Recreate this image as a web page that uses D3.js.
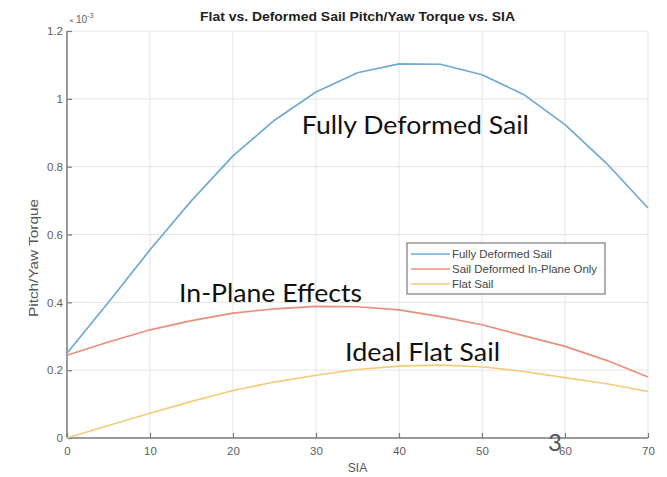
<!DOCTYPE html>
<html>
<head>
<meta charset="utf-8">
<script src="https://cdn.jsdelivr.net/npm/d3@7"></script>
<style>
  html, body { margin: 0; padding: 0; background: #fff; }
  svg { display: block; }
</style>
</head>
<body>
<svg id="chart" width="667" height="477"></svg>
<script>
// Sail incidence angle (degrees)
const sia = [0, 5, 10, 15, 20, 25, 30, 35, 40, 45, 50, 55, 60, 65, 70];

// Pitch/yaw torque, in units of 1e-3
const fullyDeformed = [0.250, 0.400, 0.555, 0.700, 0.832, 0.937, 1.020, 1.077, 1.103, 1.102, 1.071, 1.013, 0.924, 0.810, 0.678];
const inPlaneOnly   = [0.244, 0.283, 0.319, 0.346, 0.368, 0.381, 0.388, 0.387, 0.378, 0.358, 0.334, 0.302, 0.270, 0.229, 0.180];
const flatSail      = [0.000, 0.037, 0.073, 0.108, 0.140, 0.165, 0.185, 0.202, 0.212, 0.215, 0.210, 0.196, 0.178, 0.160, 0.137];

const seriesNames = ["Fully Deformed Sail", "Sail Deformed In-Plane Only", "Flat Sail"];

const xTicks = [0, 10, 20, 30, 40, 50, 60, 70];
const yTicks = [0, 0.2, 0.4, 0.6, 0.8, 1, 1.2];

const titleText = "Flat vs. Deformed Sail Pitch/Yaw Torque vs. SIA";
const xLabel = "SIA";
const yLabel = "Pitch/Yaw Torque";
const calloutTexts = ["Fully Deformed Sail", "In-Plane Effects", "Ideal Flat Sail"];
// callout anchors in data coordinates (SIA, torque)
const calloutAnchors = [[28.3, 0.895], [13.5, 0.402], [33.5, 0.228]];

// ---- styling ----
const seriesColors = ["#6faad5", "#e98f7b", "#f2cc78"];
const calloutWidths = [227, 183, 155];
const sans = "'Liberation Sans', Arial, sans-serif";
const slideFont = "Lato, 'Open Sans', sans-serif";

const svg = d3.select("#chart");
const plotLeft = 67, plotRight = 648, plotTop = 31, plotBottom = 438;

const x = d3.scaleLinear().domain([0, 70]).range([plotLeft, plotRight]);
const y = d3.scaleLinear().domain([0, 1.2]).range([plotBottom, plotTop]);

// grid
const grid = svg.append("g").attr("stroke", "#e4e4e4").attr("stroke-width", 1);
grid.selectAll("line.vx").data(xTicks.slice(1)).join("line")
  .attr("x1", d => x(d)).attr("x2", d => x(d))
  .attr("y1", plotTop).attr("y2", plotBottom);
grid.selectAll("line.hy").data(yTicks.slice(1)).join("line")
  .attr("x1", plotLeft).attr("x2", plotRight)
  .attr("y1", d => y(d)).attr("y2", d => y(d));

// axes
const axisColor = "#7a7a7a";
const xAxis = svg.append("g").attr("transform", `translate(0,${plotBottom})`)
  .call(d3.axisBottom(x).tickValues(xTicks).tickSize(-5).tickPadding(9).tickFormat(d3.format("d")));
const yAxis = svg.append("g").attr("transform", `translate(${plotLeft},0)`)
  .call(d3.axisLeft(y).tickValues(yTicks).tickSize(-5).tickPadding(4).tickFormat(d => d === 0 ? "0" : d3.format("")(d)));
[xAxis, yAxis].forEach(a => {
  a.select(".domain").attr("stroke", axisColor).attr("stroke-width", 1.5);
  a.selectAll(".tick line").attr("stroke", axisColor).attr("stroke-width", 1.2);
  a.selectAll(".tick text").attr("fill", "#5e5e5e").attr("font-family", sans).attr("font-size", 11.5);
});
xAxis.select(".domain").attr("d", `M${plotLeft},0H${plotRight}`);
yAxis.select(".domain").attr("d", `M0,${plotBottom}V${plotTop}`);

// exponent
const expo = svg.append("text").attr("x", plotLeft + 2).attr("y", plotTop - 8)
  .attr("font-family", sans).attr("font-size", 10).attr("fill", "#5e5e5e");
expo.append("tspan").attr("font-size", 8).text("\u00d7 ");
expo.append("tspan").text("10");
expo.append("tspan").attr("dy", -5).attr("font-size", 7.5).text("-3");

// title & axis labels
svg.append("text").attr("x", (plotLeft + plotRight) / 2).attr("y", 21).attr("text-anchor", "middle")
  .attr("font-family", sans).attr("font-weight", "bold").attr("font-size", 13)
  .attr("textLength", 315).attr("lengthAdjust", "spacingAndGlyphs")
  .attr("fill", "#222").text(titleText);
svg.append("text").attr("x", (plotLeft + plotRight) / 2).attr("y", 472).attr("text-anchor", "middle")
  .attr("font-family", sans).attr("font-size", 12).attr("fill", "#555").text(xLabel);
svg.append("text").attr("transform", `translate(38,258) rotate(-90)`).attr("text-anchor", "middle")
  .attr("font-family", sans).attr("font-size", 12.5).attr("fill", "#555")
  .attr("textLength", 118).attr("lengthAdjust", "spacingAndGlyphs").text(yLabel);

// curves
const line = d3.line().x((d, i) => x(sia[i])).y(d => y(d));
const allSeries = [fullyDeformed, inPlaneOnly, flatSail];
svg.append("g").selectAll("path").data(allSeries).join("path")
  .attr("d", d => line(d)).attr("fill", "none")
  .attr("stroke", (d, i) => seriesColors[i]).attr("stroke-width", 1.7).attr("stroke-linejoin", "round");

// legend
const lg = svg.append("g");
lg.append("rect").attr("x", 407).attr("y", 243).attr("width", 198).attr("height", 51)
  .attr("fill", "#fff").attr("stroke", "#7a7a7a").attr("stroke-width", 1.2);
seriesNames.forEach((name, i) => {
  const ry = 254 + i * 15;
  lg.append("line").attr("x1", 411).attr("x2", 450).attr("y1", ry).attr("y2", ry)
    .attr("stroke", seriesColors[i]).attr("stroke-width", 1.7);
  const t = lg.append("text").attr("x", 452).attr("y", ry + 3.8)
    .attr("font-family", sans).attr("font-size", 10.5).attr("fill", "#444").text(name);
  // slightly wider lettering, as in the exported figure
  const w = t.node().getComputedTextLength();
  t.attr("textLength", w * 1.09).attr("lengthAdjust", "spacingAndGlyphs");
});

// callout labels
svg.append("g").selectAll("text").data(calloutTexts).join("text")
  .attr("x", (d, i) => x(calloutAnchors[i][0])).attr("y", (d, i) => y(calloutAnchors[i][1]))
  .attr("font-family", slideFont).attr("font-size", 25).attr("fill", "#111")
  .attr("textLength", (d, i) => calloutWidths[i]).attr("lengthAdjust", "spacingAndGlyphs")
  .text(d => d);

// page number
svg.append("text").attr("x", 548).attr("y", 451)
  .attr("font-family", slideFont).attr("font-size", 24).attr("fill", "#555").text("3");
</script>
</body>
</html>
